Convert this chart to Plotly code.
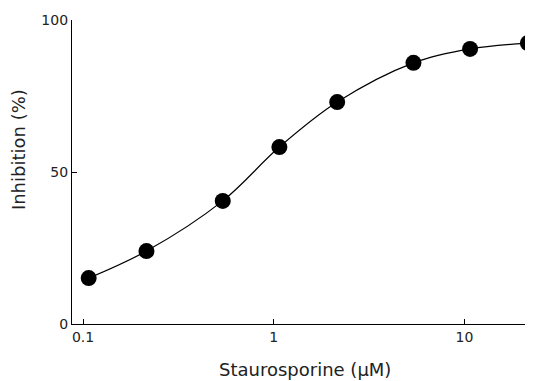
import plotly.graph_objects as go

conc_uM = [0.107, 0.215, 0.54, 1.07, 2.15, 5.4, 10.7, 21.5]
inhibition = [15.1, 24.0, 40.5, 58.2, 73.0, 85.9, 90.5, 92.4]

x_ticks = [0.1, 1, 10]
x_ticklabels = ["0.1", "1", "10"]
y_ticks = [0, 50, 100]

x_title = "Staurosporine (μM)"
y_title = "Inhibition (%)"

tick_font = dict(family="DejaVu Sans", size=14, color="#222222")
title_font = dict(family="DejaVu Sans", size=18, color="#222222")

fig = go.Figure()
fig.add_trace(go.Scatter(
    x=conc_uM, y=inhibition, mode="lines",
    line=dict(color="black", width=1.2, shape="spline", smoothing=1.0),
    cliponaxis=False, showlegend=False, hoverinfo="skip"))
fig.add_trace(go.Scatter(
    x=conc_uM, y=inhibition, mode="markers",
    marker=dict(color="black", size=16),
    cliponaxis=False, showlegend=False))

fig.update_layout(
    width=525, height=373,
    margin=dict(l=64, r=5, t=12, b=57, autoexpand=False),
    paper_bgcolor="white", plot_bgcolor="white",
    font=tick_font,
    xaxis=dict(
        type="log", range=[-1.058, 1.333],
        tickvals=x_ticks, ticktext=x_ticklabels,
        ticks="inside", ticklen=5, tickcolor="black",
        showline=True, linecolor="black", linewidth=1.3,
        showgrid=False, zeroline=False, automargin=False,
        tickfont=tick_font,
    ),
    yaxis=dict(
        range=[0, 100], tickvals=y_ticks,
        ticks="inside", ticklen=5, tickcolor="black",
        showline=True, linecolor="black", linewidth=1.3,
        showgrid=False, zeroline=False, automargin=False,
        tickfont=tick_font,
    ),
    annotations=[
        dict(text=x_title, xref="paper", yref="paper", x=0.511, y=0,
             yshift=-45, xanchor="center", yanchor="middle",
             showarrow=False, font=title_font),
        dict(text=y_title, xref="paper", yref="paper", x=0, y=0.572,
             xshift=-54, xanchor="center", yanchor="middle", textangle=-90,
             showarrow=False, font=title_font),
    ],
)

fig.write_html("out.html")
